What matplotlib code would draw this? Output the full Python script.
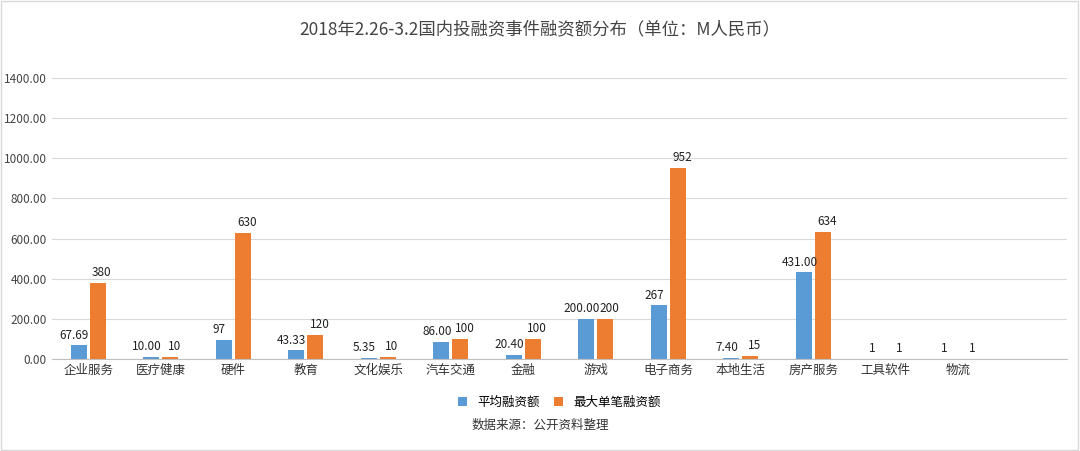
import matplotlib.pyplot as plt
import numpy as np

plt.rcParams["font.family"] = "Noto Sans CJK SC"

categories = ["企业服务", "医疗健康", "硬件", "教育", "文化娱乐", "汽车交通", "金融",
              "游戏", "电子商务", "本地生活", "房产服务", "工具软件", "物流"]
avg_values = [67.69, 10.00, 97, 43.33, 5.35, 86.00, 20.40, 200.00, 267, 7.40, 431.00, 1, 1]
avg_labels = ["67.69", "10.00", "97", "43.33", "5.35", "86.00", "20.40", "200.00", "267",
              "7.40", "431.00", "1", "1"]
max_values = [380, 10, 630, 120, 10, 100, 100, 200, 952, 15, 634, 1, 1]
max_labels = ["380", "10", "630", "120", "10", "100", "100", "200", "952", "15", "634", "1", "1"]

blue = "#5b9bd5"
orange = "#ed7d31"

fig = plt.figure(figsize=(10.8, 4.51), dpi=100)
ax = fig.add_axes([0.048, 0.204, 0.94, 0.623])

x = np.arange(len(categories))
w = 0.22
ax.bar(x - w / 2 - 0.02, avg_values, w, color=blue, label="平均融资额")
ax.bar(x + w / 2 + 0.02, max_values, w, color=orange, label="最大单笔融资额")

for xi, v, t in zip(x, avg_values, avg_labels):
    ax.text(xi - w / 2 - 0.08, v + 18, t, ha="center", va="bottom", fontsize=8.5, color="#222222")
for xi, v, t in zip(x, max_values, max_labels):
    ax.text(xi + w / 2 + 0.08, v + 18, t, ha="center", va="bottom", fontsize=8.5, color="#222222")

ax.set_xlim(-0.5, len(categories) + 0.5)
ax.set_ylim(0, 1400)
ax.set_yticks(np.arange(0, 1401, 200))
ax.set_yticklabels([f"{v:.2f}" for v in np.arange(0, 1401, 200)], fontsize=8.5, color="#444444")
ax.set_xticks(x)
ax.set_xticklabels(categories, fontsize=9, color="#333333")
ax.tick_params(length=0)
ax.grid(axis="y", color="#d9d9d9", lw=0.8)
ax.set_axisbelow(True)
for s in ["top", "right", "left"]:
    ax.spines[s].set_visible(False)
ax.spines["bottom"].set_color("#bfbfbf")

fig.suptitle("2018年2.26-3.2国内投融资事件融资额分布（单位：M人民币）", y=0.955,
             fontsize=12.5, color="#444444")
ax.legend(loc="upper center", bbox_to_anchor=(0.5, -0.09), ncol=2, frameon=False,
          fontsize=9, handlelength=0.7, handleheight=0.7, columnspacing=1.2)
fig.text(0.5, 0.05, "数据来源：公开资料整理", ha="center", fontsize=9, color="#333333")

fig.patches.append(plt.Rectangle((0.001, 0.002), 0.997, 0.995, transform=fig.transFigure,
                                 fill=False, edgecolor="#d9d9d9", lw=1))
fig.savefig("out.png", dpi=100)
